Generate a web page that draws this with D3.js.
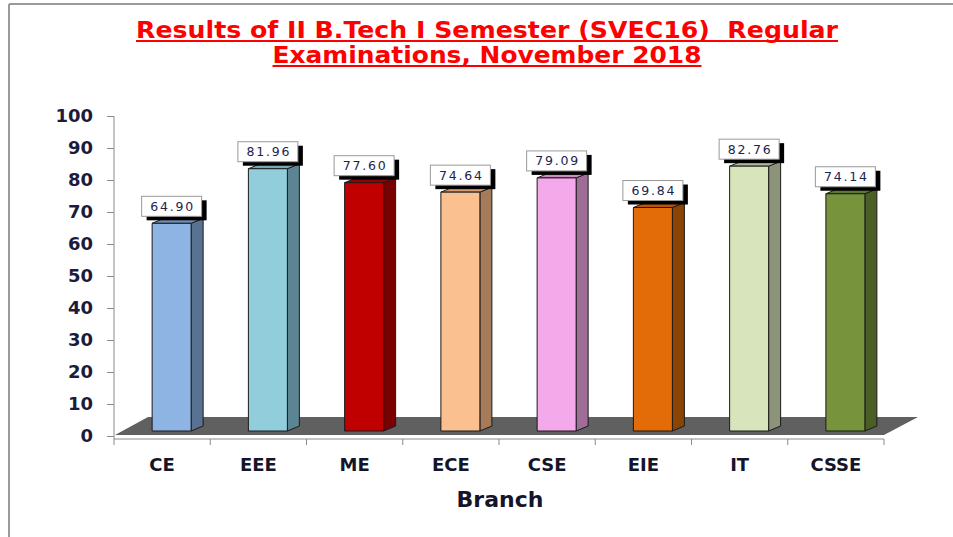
<!DOCTYPE html>
<html>
  <head>
    <script type="text/javascript" src="https://d3js.org/d3.v7.min.js"></script>
    <style>
      body { margin: 0; background: #fff; }
    </style>
  </head>
  <body>
    <svg id="svg1" width="953" height="537"></svg>

    <script>
      // chart data
      const branches = ["CE", "EEE", "ME", "ECE", "CSE", "EIE", "IT", "CSSE"];
      const passPercent = [64.9, 81.96, 77.6, 74.64, 79.09, 69.84, 82.76, 74.14];
      const yTicks = [0, 10, 20, 30, 40, 50, 60, 70, 80, 90, 100];
      const frontColors = ["#8eb4e3", "#92cddc", "#c00000", "#fac090", "#f4a9ea", "#e36c09", "#d7e4bc", "#77933c"];
      const sideColors = ["#5a7291", "#5b8593", "#780000", "#a67b5a", "#a06d99", "#8c4306", "#8b9479", "#4b5e26"];
      const topColors = ["#7190b8", "#77a9b6", "#9a0000", "#d29c72", "#cb8cc2", "#b85607", "#b0bb99", "#5f7730"];

      const svg = d3.select("#svg1");
      const font = "DejaVu Sans, Verdana, sans-serif";

      // outer frame (only top and left edges visible)
      svg.append("line").attr("x1", 9).attr("y1", 4).attr("x2", 953).attr("y2", 4)
        .attr("stroke", "#9a9a9a").attr("stroke-width", 2);
      svg.append("line").attr("x1", 9).attr("y1", 4).attr("x2", 9).attr("y2", 537)
        .attr("stroke", "#9a9a9a").attr("stroke-width", 2);

      // title
      const titleLines = [
        { text: "Results of II B.Tech I Semester (SVEC16)  Regular", y: 38, len: 702 },
        { text: "Examinations, November 2018", y: 63, len: 429 }
      ];
      titleLines.forEach(function (t) {
        svg.append("text")
          .attr("x", 487)
          .attr("y", t.y)
          .attr("text-anchor", "middle")
          .attr("font-family", font)
          .attr("font-weight", "bold")
          .attr("font-size", 23)
          .attr("fill", "#ff0000")
          .attr("textLength", t.len)
          .attr("lengthAdjust", "spacingAndGlyphs")
          .style("white-space", "pre")
          .text(t.text);
        svg.append("line")
          .attr("x1", 487 - t.len / 2).attr("x2", 487 + t.len / 2)
          .attr("y1", t.y + 3).attr("y2", t.y + 3)
          .attr("stroke", "#ff0000").attr("stroke-width", 2);
      });

      // scales
      const x = d3.scaleBand().domain(branches).range([114, 884]).padding(0);
      const y = d3.scaleLinear().domain([0, 100]).range([436, 116]);

      const floorDx = 34, floorDy = -18;   // depth of the floor
      const barShiftX = 9.5, barShiftY = -5; // bars sit inside the floor
      const barW = 39, barDx = 12, barDy = -5; // bar width and depth

      // floor
      const x0 = x.range()[0], x1 = x.range()[1], yf = y(0) - 1;
      svg.append("polygon")
        .attr("points", [
          [x0 + 1, yf], [x1, yf], [x1 + floorDx, yf + floorDy], [x0 + floorDx, yf + floorDy]
        ].map(p => p.join(",")).join(" "))
        .attr("fill", "#606060");

      // y axis
      const yAxis = svg.append("g")
        .attr("transform", "translate(" + x0 + ",0)")
        .call(d3.axisLeft(y).tickValues(yTicks).tickSize(7).tickPadding(14).tickSizeOuter(0));
      yAxis.select(".domain").attr("stroke", "#8a8a8a").attr("d", "M0," + y(100) + "V" + (y(0) + 3));
      yAxis.selectAll(".tick line").attr("stroke", "#8a8a8a");
      yAxis.selectAll(".tick text")
        .attr("font-family", font)
        .attr("font-weight", "bold")
        .attr("font-size", 18)
        .attr("fill", "#1c1c3a");

      // x axis line and boundary ticks
      const xa = svg.append("g");
      xa.append("line")
        .attr("x1", x0).attr("x2", x1)
        .attr("y1", y(0) + 3).attr("y2", y(0) + 3)
        .attr("stroke", "#8a8a8a");
      xa.selectAll(".xt")
        .data(branches.map(b => x(b)).concat([x1]))
        .enter()
        .append("line")
        .attr("x1", d => d).attr("x2", d => d)
        .attr("y1", y(0) + 3).attr("y2", y(0) + 9)
        .attr("stroke", "#8a8a8a");

      xa.selectAll(".xl")
        .data(branches)
        .enter()
        .append("text")
        .attr("x", d => x(d) + x.bandwidth() / 2)
        .attr("y", 471)
        .attr("text-anchor", "middle")
        .attr("font-family", font)
        .attr("font-weight", "bold")
        .attr("font-size", 18)
        .attr("fill", "#14142a")
        .text(d => d);

      svg.append("text")
        .attr("x", 500)
        .attr("y", 507)
        .attr("text-anchor", "middle")
        .attr("font-family", font)
        .attr("font-weight", "bold")
        .attr("font-size", 22)
        .attr("fill", "#14142a")
        .text("Branch");

      // bars
      const bars = svg.append("g");
      branches.forEach(function (b, i) {
        const v = passPercent[i];
        const cx = x(b) + x.bandwidth() / 2 + barShiftX;
        const left = cx - barW / 2, right = cx + barW / 2;
        const top = y(v) + barShiftY, bottom = y(0) + barShiftY;
        const g = bars.append("g").attr("stroke", "#1a1a1a").attr("stroke-width", 1).attr("stroke-linejoin", "round");

        // side face
        g.append("polygon")
          .attr("points", [[right, bottom], [right + barDx, bottom + barDy], [right + barDx, top + barDy], [right, top]]
            .map(p => p.join(",")).join(" "))
          .attr("fill", sideColors[i]);
        // top cap
        g.append("polygon")
          .attr("points", [[left, top], [right, top], [right + barDx, top + barDy], [left + barDx, top + barDy]]
            .map(p => p.join(",")).join(" "))
          .attr("fill", topColors[i]);
        // front face
        g.append("rect")
          .attr("x", left).attr("y", top)
          .attr("width", barW).attr("height", bottom - top)
          .attr("fill", frontColors[i]);

        // data label with shadow
        const bw = 60, bh = 20;
        const by = top - 7 - bh;
        bars.append("rect")
          .attr("x", cx - bw / 2 + 5).attr("y", by + 4)
          .attr("width", bw).attr("height", bh)
          .attr("fill", "#000");
        bars.append("rect")
          .attr("x", cx - bw / 2).attr("y", by)
          .attr("width", bw).attr("height", bh)
          .attr("fill", "#fff")
          .attr("stroke", "#9a9a9a");
        bars.append("text")
          .attr("x", cx).attr("y", by + 14.5)
          .attr("text-anchor", "middle")
          .attr("font-family", font)
          .attr("font-size", 12.5)
          .attr("textLength", 43)
          .attr("fill", "#1c2450")
          .text(v.toFixed(2));
      });
    </script>
  </body>
</html>
